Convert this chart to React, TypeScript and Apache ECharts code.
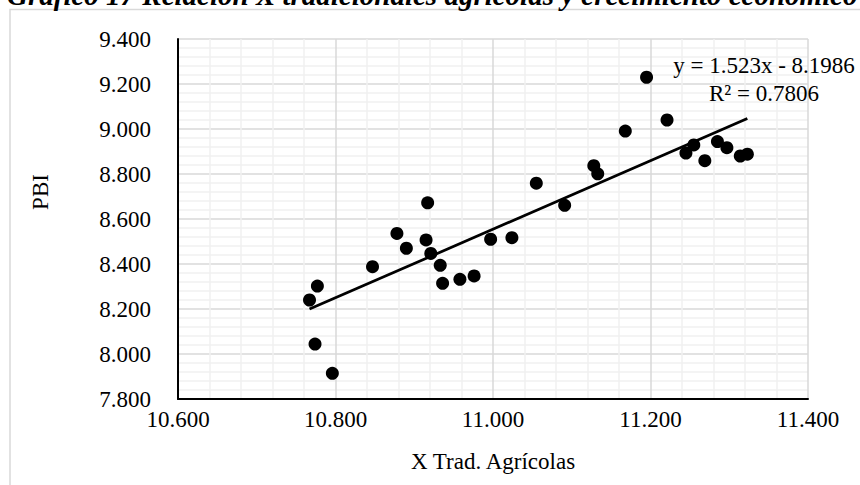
import React, { useEffect, useRef } from "react";
import * as echarts from "echarts";

const xTrad: number[] = [10.767, 10.777, 10.774, 10.796, 10.847, 10.878, 10.890, 10.917, 10.915, 10.921, 10.933, 10.936, 10.958, 10.976, 10.997, 11.024, 11.055, 11.091, 11.128, 11.133, 11.168, 11.195, 11.221, 11.245, 11.255, 11.269, 11.285, 11.297, 11.314, 11.323];
const pbi: number[] = [8.240, 8.302, 8.044, 7.914, 8.388, 8.536, 8.470, 8.672, 8.507, 8.447, 8.394, 8.314, 8.332, 8.347, 8.510, 8.517, 8.759, 8.661, 8.837, 8.801, 8.991, 9.230, 9.040, 8.893, 8.929, 8.859, 8.944, 8.917, 8.880, 8.888];

const trendSlope = 1.523;
const trendIntercept = -8.1986;
const equationText = "y = 1.523x - 8.1986";
const r2Text = "R² = 0.7806";
const titleText = "Gráfico 17 Relación X tradicionales agrícolas y crecimiento económico";
const xAxisName = "X Trad. Agrícolas";
const yAxisName = "PBI";

const FONT = "Liberation Serif";

export default function App() {
  const ref = useRef<HTMLDivElement>(null);
  useEffect(() => {
    if (!ref.current) return;
    const chart = echarts.init(ref.current, null, { renderer: "svg" });
    const points = xTrad.map((x, i) => [x, pbi[i]]);
    const xMin = Math.min(...xTrad);
    const xMax = Math.max(...xTrad);
    const trend = [
      [xMin, trendSlope * xMin + trendIntercept],
      [xMax, trendSlope * xMax + trendIntercept],
    ];
    const richLabel = {
      t: { fontFamily: FONT, fontSize: 23, color: "#000" },
    };
    chart.setOption({
      animation: false,
      backgroundColor: "#ffffff",
      textStyle: { fontFamily: FONT },
      grid: { left: 178, right: 52, top: 39, bottom: 86, containLabel: false },
      xAxis: {
        type: "value",
        min: 10.6,
        max: 11.4,
        interval: 0.2,
        name: xAxisName,
        nameLocation: "middle",
        nameGap: 51,
        nameTextStyle: { fontFamily: FONT, fontSize: 23, color: "#000" },
        axisLine: { show: true, onZero: false, lineStyle: { color: "#000", width: 2 } },
        axisTick: { show: false },
        axisLabel: {
          fontFamily: FONT,
          fontSize: 23,
          color: "#000",
          margin: 9,
          formatter: (v: number) => "{t|" + v.toFixed(3) + "}",
          rich: richLabel,
        },
        splitLine: { show: true, lineStyle: { color: "#d9d9d9", width: 1.5 } },
        minorTick: { show: false, splitNumber: 5 },
        minorSplitLine: { show: true, lineStyle: { color: "#f0f0f0", width: 1.5 } },
      },
      yAxis: {
        type: "value",
        min: 7.8,
        max: 9.4,
        interval: 0.2,
        axisLine: { show: true, onZero: false, lineStyle: { color: "#000", width: 2 } },
        axisTick: { show: false },
        axisLabel: {
          fontFamily: FONT,
          fontSize: 23,
          color: "#000",
          margin: 27,
          formatter: (v: number) => "{t|" + v.toFixed(3) + "}",
          rich: richLabel,
        },
        splitLine: { show: true, lineStyle: { color: "#d9d9d9", width: 1.5 } },
        minorTick: { show: false, splitNumber: 5 },
        minorSplitLine: { show: true, lineStyle: { color: "#f0f0f0", width: 1.5 } },
      },
      series: [
        {
          type: "scatter",
          data: points,
          symbol: "circle",
          symbolSize: 13,
          itemStyle: { color: "#000", opacity: 1 },
          z: 3,
        },
        {
          type: "line",
          data: trend,
          symbol: "none",
          lineStyle: { color: "#000", width: 2.75 },
          z: 4,
        },
      ],
      graphic: [
        {
          type: "rect",
          silent: true,
          shape: { x: 10, y: 9.5, width: 900, height: 520 },
          style: { fill: "none", stroke: "#d9d9d9", lineWidth: 1.5 },
          z: -10,
        },
        {
          type: "text",
          x: 7,
          y: -5,
          style: {
            text: titleText,
            fontFamily: FONT,
            fontSize: 29,
            fontWeight: "bold",
            fontStyle: "italic",
            fill: "#000",
            align: "left",
            verticalAlign: "middle",
          },
        },
        {
          type: "text",
          x: 40,
          y: 192,
          rotation: Math.PI / 2,
          style: {
            text: yAxisName,
            fontFamily: FONT,
            fontSize: 23,
            fill: "#000",
            align: "center",
            verticalAlign: "middle",
          },
        },
        {
          type: "text",
          x: 764,
          y: 65,
          style: {
            text: equationText,
            fontFamily: FONT,
            fontSize: 23,
            fill: "#000",
            align: "center",
            verticalAlign: "middle",
          },
          z: 10,
        },
        {
          type: "text",
          x: 764,
          y: 93,
          style: {
            text: r2Text,
            fontFamily: FONT,
            fontSize: 23,
            fill: "#000",
            align: "center",
            verticalAlign: "middle",
          },
          z: 10,
        },
      ],
    });
    return () => chart.dispose();
  }, []);
  return (
    <div
      ref={ref}
      style={{ position: "absolute", left: 0, top: 0, width: 860, height: 485 }}
    />
  );
}
